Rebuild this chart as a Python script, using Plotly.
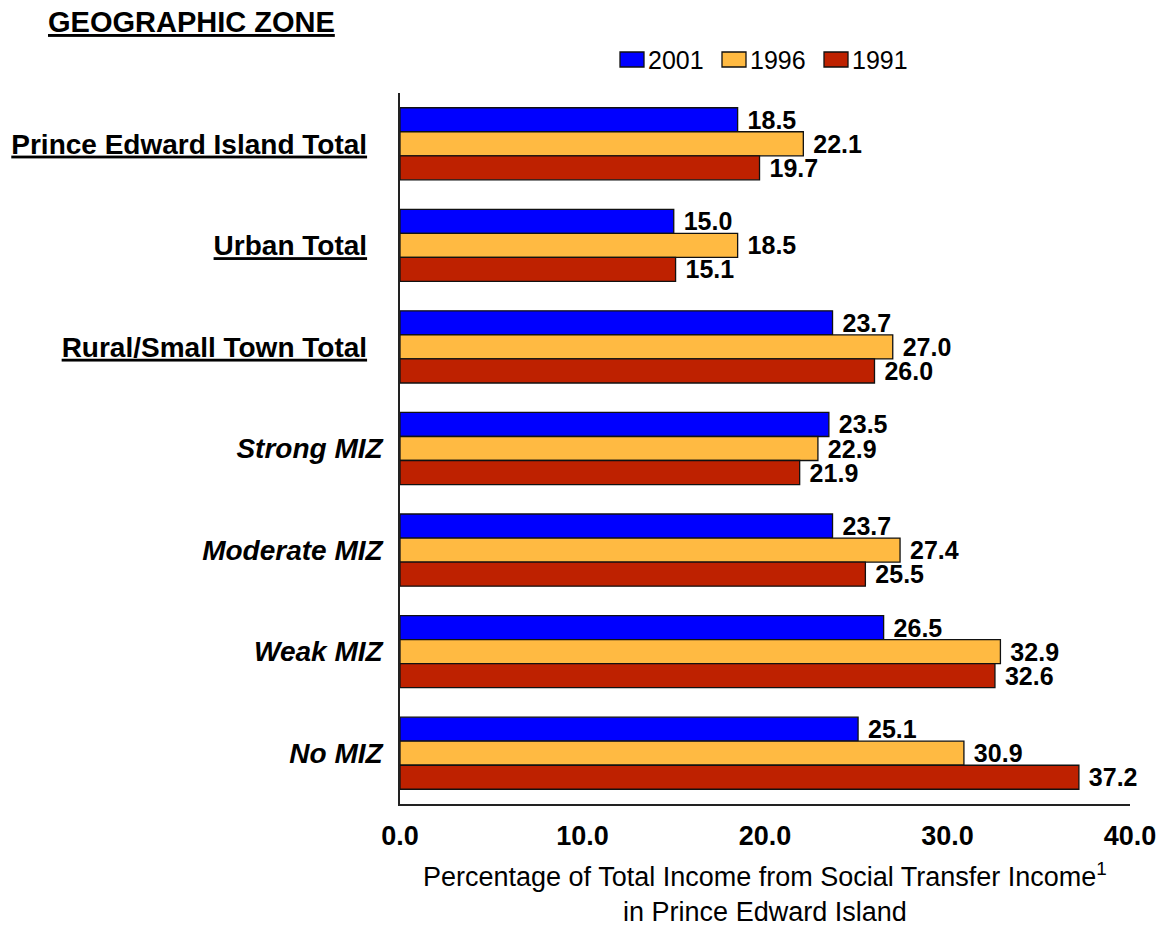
import plotly.graph_objects as go

# Geographic zones, listed top to bottom
zones = [
    "Prince Edward Island Total",
    "Urban Total",
    "Rural/Small Town Total",
    "Strong MIZ",
    "Moderate MIZ",
    "Weak MIZ",
    "No MIZ",
]
# Totals are shown bold and underlined, MIZ zones bold italic
zone_labels = [
    "<u><b>Prince Edward Island Total</b></u>\u00a0\u00a0",
    "<u><b>Urban Total</b></u>\u00a0\u00a0",
    "<u><b>Rural/Small Town Total</b></u>\u00a0\u00a0",
    "<b><i>Strong MIZ</i></b>",
    "<b><i>Moderate MIZ</i></b>",
    "<b><i>Weak MIZ</i></b>",
    "<b><i>No MIZ</i></b>",
]

years = ["2001", "1996", "1991"]
share_2001 = [18.5, 15.0, 23.7, 23.5, 23.7, 26.5, 25.1]
share_1996 = [22.1, 18.5, 27.0, 22.9, 27.4, 32.9, 30.9]
share_1991 = [19.7, 15.1, 26.0, 21.9, 25.5, 32.6, 37.2]
series = [share_2001, share_1996, share_1991]
colors = ["#0000FF", "#FFBA42", "#BE2100"]

x_ticks = [0, 10, 20, 30, 40]
x_title = ("Percentage of Total Income from Social Transfer Income<sup>1</sup>"
           "<br>in Prince Edward Island")

FONT = "Arial, Liberation Sans, sans-serif"
W, H = 1160, 928
M_L, M_R, M_T, M_B = 400, 30, 93, 124
PW, PH = W - M_L - M_R, H - M_T - M_B


def px_x(p):
    return (p - M_L) / PW


def px_y(p):
    return (H - M_B - p) / PH


fig = go.Figure()
for name, vals, col in zip(years, series, colors):
    fig.add_trace(go.Bar(
        name=name,
        y=zones,
        x=vals,
        orientation="h",
        marker=dict(color=col, line=dict(color="#111111", width=1.3)),
        text=["\u00a0" + f"{v:.1f}" for v in vals],
        textposition="outside",
        textfont=dict(family=FONT, size=25, color="#000000", weight="bold"),
        constraintext="none",
        cliponaxis=False,
        showlegend=False,
    ))

# Legend: coloured boxes with year labels above the plot
shapes = []
annotations = []
for i, (name, col) in enumerate(zip(years, colors)):
    x0 = 620 + i * 102
    shapes.append(dict(
        type="rect", xref="paper", yref="paper",
        x0=px_x(x0), x1=px_x(x0 + 24), y0=px_y(67), y1=px_y(52),
        fillcolor=col, line=dict(color="#111111", width=1.3),
    ))
    annotations.append(dict(
        xref="paper", yref="paper", x=px_x(x0 + 26), y=px_y(60),
        xanchor="left", yanchor="middle", showarrow=False,
        text=name, font=dict(family=FONT, size=25, color="#000000"),
    ))

annotations.append(dict(
    xref="paper", yref="paper", x=px_x(46), y=px_y(22),
    xanchor="left", yanchor="middle", showarrow=False,
    text="<u><b>GEOGRAPHIC ZONE</b></u>",
    font=dict(family=FONT, size=29, color="#000000"),
))

# Two-line x-axis title below the tick labels
annotations.append(dict(
    xref="paper", yref="paper", x=0.5, y=px_y(892),
    xanchor="center", yanchor="middle", showarrow=False,
    text=x_title, align="center",
    font=dict(family=FONT, size=27, color="#000000"),
))

fig.update_layout(
    width=W, height=H,
    margin=dict(l=M_L, r=M_R, t=M_T, b=M_B, autoexpand=False),
    paper_bgcolor="white", plot_bgcolor="white",
    barmode="group", bargap=0.29, bargroupgap=0,
    font=dict(family=FONT, color="#000000"),
    shapes=shapes,
    annotations=annotations,
    xaxis=dict(
        range=[0, 40], tickvals=x_ticks,
        ticktext=[f"<b>{v:.1f}</b>" for v in x_ticks],
        tickfont=dict(family=FONT, size=27, color="#000000"),
        showgrid=False, zeroline=False, automargin=False,
        showline=True, linecolor="#222222", linewidth=1.5,
        ticks="", ticklabelstandoff=7,
    ),
    yaxis=dict(
        categoryorder="array", categoryarray=zones,
        tickvals=zones, ticktext=zone_labels,
        autorange="reversed",
        tickfont=dict(family=FONT, size=28, color="#000000"),
        showgrid=False, zeroline=False, automargin=False,
        showline=True, linecolor="#222222", linewidth=1.5,
        ticks="", ticklabelstandoff=10,
    ),
)

fig.write_html("out.html")
